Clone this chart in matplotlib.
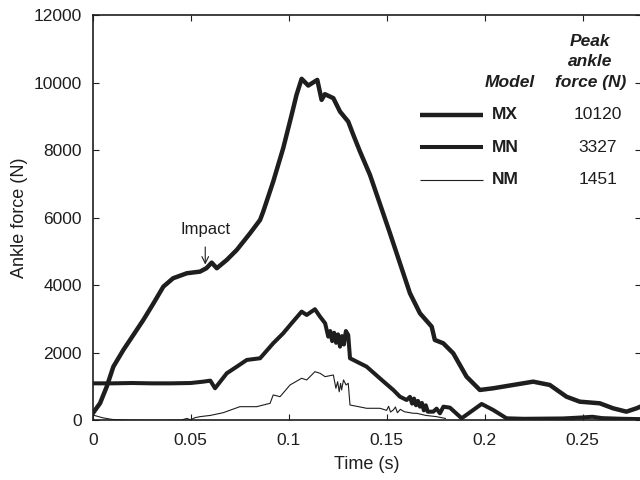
import matplotlib
matplotlib.use('Agg')
import matplotlib.pyplot as plt

plt.rcParams['font.family'] = ['Liberation Sans', 'DejaVu Sans']

# Model MX (thick)
mx_t = [0.0, 0.0037, 0.0071, 0.0105, 0.0156, 0.0207, 0.0258, 0.031, 0.036, 0.041,
        0.048, 0.0547, 0.058, 0.0607, 0.0633, 0.0684, 0.0735, 0.0803, 0.0854, 0.087,
        0.0921, 0.0972, 0.1015, 0.104, 0.1066, 0.11, 0.1146, 0.1168, 0.1185, 0.1228,
        0.1262, 0.1304, 0.133, 0.1364, 0.1415, 0.1475, 0.1517, 0.1568, 0.1619, 0.167,
        0.173, 0.1746, 0.1789, 0.184, 0.1908, 0.1976, 0.2044, 0.2146, 0.2248, 0.2333,
        0.2418, 0.2486, 0.2588, 0.2656, 0.2724, 0.2776, 0.2800]
mx_f = [213, 510, 1000, 1594, 2089, 2533, 2978, 3472, 3964, 4213,
        4361, 4409, 4510, 4676, 4510, 4756, 5052, 5547, 5941, 6187,
        7076, 8065, 9052, 9645, 10120, 9921, 10089, 9497, 9665, 9547,
        9150, 8853, 8459, 7965, 7274, 6260, 5547, 4658, 3769, 3176,
        2780, 2385, 2287, 1991, 1298, 904, 954, 1052, 1150, 1052,
        705, 557, 509, 361, 261, 361, 420]

# Model MN (medium)
mn_t = [0.0, 0.01, 0.02, 0.03, 0.04, 0.05, 0.0564, 0.060, 0.0624, 0.0684,
        0.0735, 0.0786, 0.0854, 0.0921, 0.0972, 0.1015, 0.1066, 0.1092, 0.1134, 0.116,
        0.1186, 0.1202, 0.1212, 0.1222, 0.1232, 0.1242, 0.1252, 0.1262, 0.1272, 0.1282,
        0.1292, 0.1304, 0.1313, 0.1398, 0.1475, 0.1534, 0.1568, 0.1602, 0.1619, 0.1630,
        0.1640, 0.1650, 0.1660, 0.167, 0.1680, 0.1690, 0.1700, 0.1710, 0.1738, 0.1755,
        0.1772, 0.1790, 0.1823, 0.1883, 0.1985, 0.2044, 0.2112, 0.2200, 0.2400, 0.2500,
        0.2550, 0.2600, 0.2700, 0.2800]
mn_f = [1100, 1100, 1110, 1100, 1100, 1110, 1150, 1180, 954, 1398,
        1594, 1793, 1843, 2287, 2583, 2880, 3224, 3126, 3295, 3076,
        2880, 2483, 2650, 2350, 2600, 2300, 2550, 2187, 2500, 2250,
        2650, 2533, 1843, 1594, 1200, 904, 705, 607, 700, 500,
        650, 450, 580, 409, 520, 300, 450, 260, 261, 350,
        213, 409, 380, 65, 489, 311, 65, 50, 60, 90,
        110, 70, 50, 40]

# Model NM (thin)
nm_t = [0.0, 0.005, 0.01, 0.02, 0.03, 0.045, 0.048, 0.050, 0.052, 0.0547,
        0.060, 0.0666, 0.0751, 0.0837, 0.0905, 0.0921, 0.0956, 0.1007, 0.1066, 0.1092,
        0.1134, 0.116, 0.1186, 0.1228, 0.1241, 0.1250, 0.1258, 0.1265, 0.127, 0.1280,
        0.1293, 0.1304, 0.1313, 0.1398, 0.1466, 0.1500, 0.1510, 0.1520, 0.1534, 0.1545,
        0.1555, 0.1570, 0.1590, 0.1636, 0.1653, 0.1700, 0.1755, 0.1800]
nm_f = [163, 80, 30, 10, 5, 10, 60, 20, 80, 113,
        150, 231, 409, 409, 509, 756, 705, 1052, 1250, 1200,
        1446, 1398, 1298, 1348, 954, 1150, 850, 1100, 904, 1200,
        1052, 1102, 459, 361, 361, 300, 420, 250, 311, 400,
        230, 330, 260, 213, 213, 150, 113, 60]

models = ['MX', 'MN', 'NM']
peaks = ['10120', '3327', '1451']
header = ['Peak', 'ankle', 'force (N)']
widths = [3.2, 2.9, 0.8]
ink = '#1e1e1e'

fig = plt.figure(figsize=(6.4, 4.8), dpi=100)
ax = fig.add_axes([0.145, 0.124, 0.857, 0.844])

ax.plot(mx_t, mx_f, color=ink, lw=widths[0], solid_joinstyle='round')
ax.plot(mn_t, mn_f, color=ink, lw=widths[1], solid_joinstyle='round')
ax.plot(nm_t, nm_f, color=ink, lw=widths[2])

ax.set_xlim(0, 0.28)
ax.set_ylim(0, 12000)
ax.set_xticks([0, 0.05, 0.1, 0.15, 0.2, 0.25])
ax.set_xticklabels(['0', '0.05', '0.1', '0.15', '0.2', '0.25'])
ax.set_yticks(range(0, 12001, 2000))
ax.tick_params(direction='in', top=True, right=True, length=4, width=0.8,
               labelsize=12.5, colors=ink)
ax.tick_params(axis='x', pad=9)
ax.tick_params(axis='y', pad=8)
for s in ax.spines.values():
    s.set_linewidth(1.2)
    s.set_color(ink)
ax.set_xlabel('Time (s)', fontsize=13, color=ink, labelpad=6)
ax.set_ylabel('Ankle force (N)', fontsize=13, color=ink, labelpad=4)

# impact annotation
ax.annotate('Impact', xy=(0.0574, 4620), xytext=(0.0574, 5650),
            ha='center', va='center', fontsize=12, color=ink,
            arrowprops=dict(arrowstyle='->', color=ink, lw=0.8,
                            shrinkA=5, shrinkB=0))

# legend table
ax.text(0.2257, 10000, 'Model', ha='right', va='center', fontsize=12.5,
        fontweight='bold', fontstyle='italic', color=ink)
for line, yy in zip(header, [11215, 10620, 10000]):
    ax.text(0.2540, yy, line, ha='center', va='center', fontsize=12.5,
            fontweight='bold', fontstyle='italic', color=ink)
row_y = [9050, 8100, 7125]
for name, pk, lw, yy in zip(models, peaks, widths, row_y):
    ax.plot([0.167, 0.199], [yy, yy], color=ink, lw=lw, solid_capstyle='butt')
    ax.text(0.2037, yy, name, ha='left', va='center', fontsize=12.5,
            fontweight='bold', color=ink)
    ax.text(0.2578, yy, pk, ha='center', va='center', fontsize=12.5, color=ink)

fig.savefig('out.png', dpi=100)
